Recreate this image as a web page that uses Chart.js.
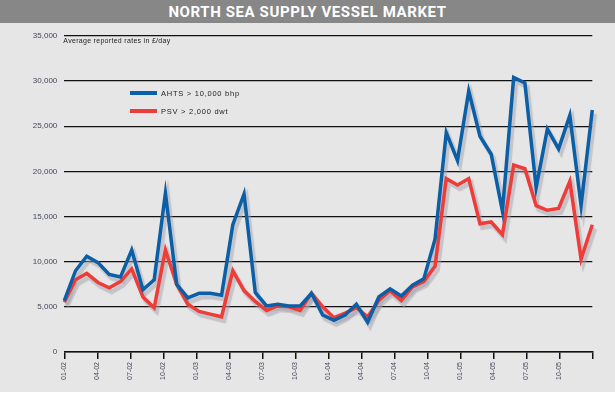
<!DOCTYPE html>
<html>
<head>
<meta charset="utf-8">
<script src="https://cdn.jsdelivr.net/npm/chart.js@4.4.1/dist/chart.umd.min.js"></script>
<style>
  html, body { margin: 0; padding: 0; background: #ffffff; }
  #wrap { position: relative; width: 615px; height: 396px; overflow: hidden; }
  #bg { position: absolute; left: 0; top: 0; width: 615px; height: 392px; background: #e6e6e6; }
  #title { position: absolute; left: 0; top: 0; width: 615px; height: 23px; background: #878787;
           color: #ffffff; font: bold 15px Roboto, "DejaVu Sans", sans-serif; text-align: center;
           line-height: 24px; letter-spacing: 0.6px; }
  canvas { position: absolute; left: 0; top: 0; }
</style>
</head>
<body>
<div id="wrap">
  <div id="bg"></div>
  <div id="title">NORTH SEA SUPPLY VESSEL MARKET</div>
  <canvas id="c" width="615" height="396"></canvas>
</div>
<script>
// Monthly categories Jan 2002 .. Dec 2005
const months = [
  '01-02','02-02','03-02','04-02','05-02','06-02','07-02','08-02','09-02','10-02','11-02','12-02',
  '01-03','02-03','03-03','04-03','05-03','06-03','07-03','08-03','09-03','10-03','11-03','12-03',
  '01-04','02-04','03-04','04-04','05-04','06-04','07-04','08-04','09-04','10-04','11-04','12-04',
  '01-05','02-05','03-05','04-05','05-05','06-05','07-05','08-05','09-05','10-05','11-05','12-05'
];
// Quarterly tick labels on the axis
const quarterLabels = ['01-02','04-02','07-02','10-02','01-03','04-03','07-03','10-03',
                       '01-04','04-04','07-04','10-04','01-05','04-05','07-05','10-05',''];
const seriesNames = ['AHTS > 10,000 bhp', 'PSV > 2,000 dwt'];
const ahts = [
  5700, 9000, 10600, 9900, 8600, 8300, 11300, 6900, 8000, 17600, 7500, 6000,
  6500, 6500, 6300, 14100, 17500, 6600, 5100, 5300, 5100, 5100, 6500, 4100,
  3500, 4100, 5300, 3300, 6100, 7000, 6200, 7400, 8100, 12500, 24300, 21200,
  28900, 23900, 21900, 15600, 30400, 29800, 18200, 24700, 22500, 26200, 16200, 26800
];
const psv = [
  5500, 8000, 8700, 7700, 7100, 7800, 9200, 6100, 4900, 11300, 7500, 5300,
  4500, 4200, 3900, 9000, 6800, 5600, 4600, 5100, 5000, 4600, 6500, 5000,
  3800, 4300, 4900, 3900, 5700, 6800, 5700, 7200, 7800, 9500, 19200, 18500,
  19200, 14200, 14400, 13000, 20700, 20300, 16200, 15700, 15900, 18900, 10300, 14100
];
const yTicks = [0, 5000, 10000, 15000, 20000, 25000, 30000, 35000];
const subtitle = 'Average reported rates in £/day';

const BLUE = '#0b5fa6';
const RED = '#ee3d39';

const shadowPlugin = {
  id: 'lineShadow',
  beforeDatasetsDraw(chart) {
    const ctx = chart.ctx;
    ctx.save();
    ctx.strokeStyle = 'rgba(160,160,172,0.4)';
    ctx.lineWidth = 4.5;
    ctx.lineJoin = 'miter';
    ctx.shadowColor = 'rgba(160,160,172,0.4)';
    ctx.shadowBlur = 2;
    chart.data.datasets.forEach((ds, i) => {
      const meta = chart.getDatasetMeta(i);
      ctx.beginPath();
      meta.data.forEach((p, j) => {
        if (j === 0) ctx.moveTo(p.x + 2.5, p.y + 4);
        else ctx.lineTo(p.x + 2.5, p.y + 4);
      });
      ctx.stroke();
    });
    ctx.restore();
  }
};

const annotPlugin = {
  id: 'annot',
  afterDraw(chart) {
    const ctx = chart.ctx;
    const area = chart.chartArea;
    ctx.save();
    ctx.fillStyle = '#222';
    ctx.font = '7px "Liberation Sans", Arial, sans-serif';
    ctx.textBaseline = 'middle';
    ctx.textAlign = 'left';
    ctx.letterSpacing = '0.3px';
    ctx.fillText(subtitle, area.left - 1, area.top + 5.5);
    // legend
    const lx = 130, ly = [93, 111];
    ctx.letterSpacing = '0.75px';
    chart.data.datasets.forEach((ds, i) => {
      ctx.fillStyle = ds.borderColor;
      ctx.fillRect(lx, ly[i] - 2, 27, 4);
      ctx.fillStyle = '#222';
      ctx.font = '7.5px "Liberation Sans", Arial, sans-serif';
      ctx.fillText(ds.label, lx + 31, ly[i] + 0.5);
    });
    ctx.restore();
  }
};

new Chart(document.getElementById('c'), {
  type: 'line',
  data: {
    labels: months,
    datasets: [
      { label: seriesNames[0], data: ahts, borderColor: BLUE, backgroundColor: BLUE,
        borderWidth: 3.5, pointRadius: 0, tension: 0, borderJoinStyle: 'miter', xAxisID: 'x' },
      { label: seriesNames[1], data: psv, borderColor: RED, backgroundColor: RED,
        borderWidth: 3.5, pointRadius: 0, tension: 0, borderJoinStyle: 'miter', xAxisID: 'x' }
    ]
  },
  options: {
    responsive: false,
    animation: false,
    devicePixelRatio: 1,
    layout: { padding: { top: 36, right: 22.7, left: 0, bottom: 0 } },
    plugins: { legend: { display: false }, tooltip: { enabled: false }, title: { display: false } },
    scales: {
      x: { type: 'category', display: false, offset: false },
      xq: {
        type: 'linear', position: 'bottom', min: 0, max: quarterLabels.length - 1,
        afterFit(s) { s.height = 44; },
        afterBuildTicks(s) { s.ticks = quarterLabels.map((l, i) => ({ value: i })); },
        ticks: {
          autoSkip: false, maxRotation: 90, minRotation: 90, padding: 3,
          color: '#44485a', font: { family: '"Liberation Sans", Arial, sans-serif', size: 7 },
          callback: (v) => quarterLabels[v]
        },
        grid: { drawOnChartArea: false, drawTicks: true, tickLength: 7, color: '#111', lineWidth: 1.5 },
        border: { display: true, color: '#111', width: 1.5 }
      },
      y: {
        min: 0, max: 35000,
        afterFit(s) { s.width = 64.3; },
        afterBuildTicks(s) { s.ticks = yTicks.map(v => ({ value: v })); },
        ticks: {
          padding: 7, color: '#44485a',
          font: { family: '"Liberation Sans", Arial, sans-serif', size: 8 },
          callback: (v) => v.toLocaleString('en-US')
        },
        grid: { color: '#111', lineWidth: 1.3, drawTicks: false },
        border: { display: false }
      }
    }
  },
  plugins: [shadowPlugin, annotPlugin]
});
</script>
</body>
</html>
